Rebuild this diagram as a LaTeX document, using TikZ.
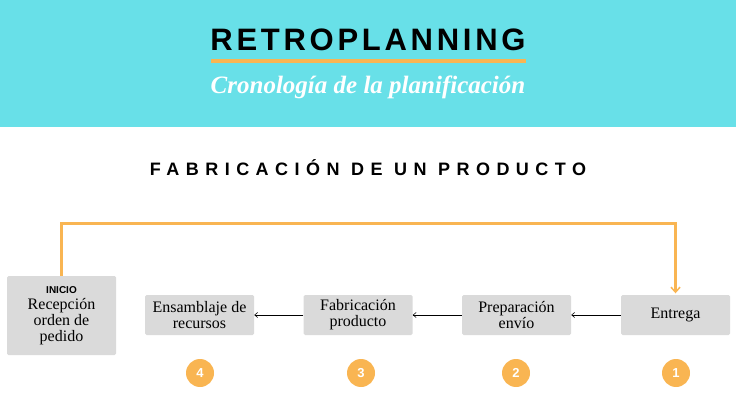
\documentclass[tikz,border=0pt]{standalone}
\usepackage{fontspec}
\setmainfont{Liberation Serif}
\setsansfont{Liberation Sans}
\newfontfamily\titlefont[LetterSpace=12]{Liberation Sans}
\newfontfamily\headfont[LetterSpace=36]{Liberation Sans}
\usetikzlibrary{arrows.meta}
\definecolor{hdr}{HTML}{68E0E8}
\definecolor{org}{HTML}{F9B552}
\definecolor{boxgray}{HTML}{DADADA}
\begin{document}
\begin{tikzpicture}[x=1pt,y=-1pt,
  stepbox/.style={fill=boxgray, rounded corners=1.5pt, minimum width=109pt, minimum height=40pt, inner sep=0pt, align=center, font=\fontsize{16}{16}\selectfont},
  num/.style={circle, fill=org, minimum size=28pt, inner sep=0pt, text=white, font=\sffamily\bfseries\fontsize{13}{14}\selectfont},
  conn/.style={draw=black, line width=0.6pt, -{Straight Barb[length=3pt,width=5pt]}},
  orgline/.style={draw=org, line width=3pt, -{Straight Barb[length=5pt,width=9pt,line width=1.5pt]}}]
\useasboundingbox (0,0) rectangle (736,414);
\fill[hdr] (0,0) rectangle (736,127);
\node (title) at (368,40) {\titlefont\bfseries\fontsize{31}{31}\selectfont RETROPLANNING};
\coordinate (ul1) at (211,61);
\coordinate (ul2) at (526,61);
\draw[org, line width=4pt] (ul1) -- (ul2);
\node[text=white] (sub) at (368,87) {\bfseries\itshape\fontsize{25}{26}\selectfont Cronología de la planificación};
\node (head) at (368,168) {\headfont\bfseries\fontsize{18}{18}\selectfont FABRICACIÓN DE UN PRODUCTO};

\node[stepbox, minimum height=79pt] (inicio) at (61.5,315.5) {{\sffamily\bfseries\fontsize{10}{18}\selectfont INICIO}\\Recepción\\orden de\\pedido};
\node[stepbox] (ens) at (199.5,315) {Ensamblaje de\\recursos};
\node[stepbox] (fab) at (358,315) {Fabricación\\producto};
\node[stepbox] (prep) at (516.5,315) {Preparación\\envío};
\node[stepbox] (ent) at (675.5,315) {Entrega};

\draw[conn] (ent.west) -- (prep.east);
\draw[conn] (prep.west) -- (fab.east);
\draw[conn] (fab.west) -- (ens.east);
\draw[orgline, shorten >=1.5pt] (inicio.north) -- ++(0,-52) -| (ent.north);

\node[num] (n4) at (200,373) {4};
\node[num] (n3) at (361,373) {3};
\node[num] (n2) at (516,373) {2};
\node[num] (n1) at (676,373) {1};
\end{tikzpicture}
\end{document}
